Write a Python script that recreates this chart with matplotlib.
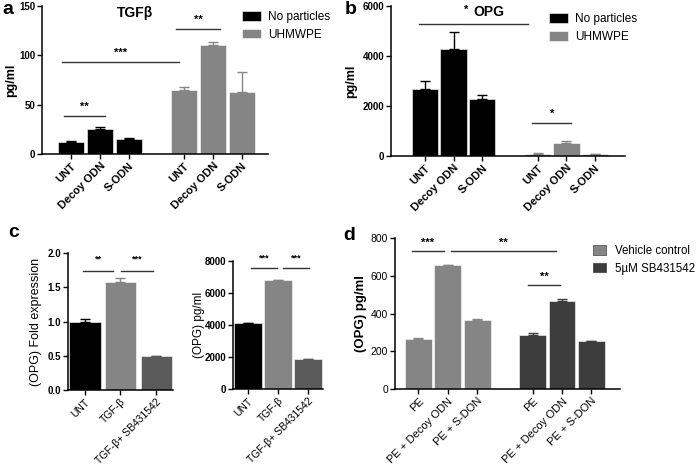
import numpy as np
import matplotlib.pyplot as plt

plt.rcParams['font.family'] = ['Liberation Sans', 'DejaVu Sans']

# ---- data ----
groups_ab = ['UNT', 'Decoy ODN', 'S-ODN']

tgf_none = [12, 25, 15]
tgf_none_err = [1, 2, 1.5]
tgf_pe = [65, 110, 63]
tgf_pe_err = [3, 4, 20]

opg_none = [2700, 4300, 2300]
opg_none_err = [300, 650, 150]
opg_pe = [100, 520, 70]
opg_pe_err = [30, 80, 20]

groups_c = ['UNT', 'TGF-β', 'TGF-β+ SB431542']
fold_expr = [1.0, 1.58, 0.49]
fold_expr_err = [0.04, 0.06, 0.01]
opg_c = [4100, 6800, 1870]
opg_c_err = [30, 30, 30]

groups_d = ['PE', 'PE + Decoy ODN', 'PE + S-DON']
opg_vehicle = [265, 655, 365]
opg_vehicle_err = [5, 3, 6]
opg_sb = [287, 467, 253]
opg_sb_err = [8, 8, 3]

BLACK = '#000000'
GREY = '#858585'
DARK = '#3d3d3d'
MID = '#5a5a5a'


def style_axis(ax, bold=True, ysize=7):
    for s in ['top', 'right']:
        ax.spines[s].set_visible(False)
    for s in ['left', 'bottom']:
        ax.spines[s].set_linewidth(1.1)
    ax.tick_params(direction='out', length=3.5, width=1.0, labelsize=ysize, pad=1.5)
    for lab in ax.get_yticklabels():
        lab.set_fontweight('bold' if bold else 'normal')


def xlabels(ax, pos, labels, size=8, bold=True):
    ax.set_xticks(pos)
    ax.set_xticklabels(labels, rotation=45, ha='right', rotation_mode='anchor',
                       fontsize=size, fontweight='bold' if bold else 'normal')


def bars(ax, pos, vals, errs, color, width, label=None):
    ax.bar(pos, vals, width=width, color=color, label=label,
           edgecolor='white', linewidth=0.4,
           yerr=[np.zeros(len(errs)), errs],
           error_kw=dict(ecolor=color, capsize=3.5, elinewidth=1.0, capthick=1.0))


def sig(ax, x0, x1, y, txt, dy, size=8):
    ax.plot([x0, x1], [y, y], color='#333333', lw=1.0, clip_on=False)
    ax.text((x0 + x1) / 2, y + dy, txt, ha='center', va='bottom', fontsize=size,
            fontweight='bold')


fig = plt.figure(figsize=(7, 4.7), dpi=100)

# ---- panel a ----
ax = fig.add_axes([42 / 700, 1 - 154 / 470, 226 / 700, 148 / 470])
p1 = np.arange(3)
p2 = p1 + 3.9
bars(ax, p1, tgf_none, tgf_none_err, BLACK, 0.9, 'No particles')
bars(ax, p2, tgf_pe, tgf_pe_err, GREY, 0.9, 'UHMWPE')
ax.set_xlim(-1.0, 6.8)
ax.set_ylim(0, 150)
ax.set_yticks([0, 50, 100, 150])
style_axis(ax)
xlabels(ax, np.concatenate([p1, p2]), groups_ab * 2)
ax.set_ylabel('pg/ml', fontsize=9, fontweight='bold')
ax.yaxis.set_label_coords(-0.11, 0.5)
sig(ax, -0.24, 1.17, 38.5, '**', 4)
sig(ax, -0.31, 3.72, 93, '***', 4)
sig(ax, 3.62, 5.14, 127, '**', 4)
ax.text(2.2, 150, 'TGFβ', ha='center', va='top', fontsize=10, fontweight='bold')
ax.legend(loc='upper left', bbox_to_anchor=(0.865, 1.0), frameon=False,
          fontsize=8.5, handlelength=1.6, handleheight=0.9, handletextpad=0.6,
          borderaxespad=0, labelspacing=0.5)

# ---- panel b ----
ax = fig.add_axes([391 / 700, 1 - 156 / 470, 234 / 700, 150 / 470])
p1 = np.arange(3)
p2 = p1 + 3.95
bars(ax, p1, opg_none, opg_none_err, BLACK, 0.92, 'No particles')
bars(ax, p2, opg_pe, opg_pe_err, GREY, 0.92, 'UHMWPE')
ax.set_xlim(-1.19, 7.0)
ax.set_ylim(0, 6000)
ax.set_yticks([0, 2000, 4000, 6000])
style_axis(ax)
xlabels(ax, np.concatenate([p1, p2]), groups_ab * 2)
ax.set_ylabel('pg/ml', fontsize=9, fontweight='bold')
ax.yaxis.set_label_coords(-0.145, 0.5)
sig(ax, -0.21, 3.6, 5280, '', 0)
ax.text(1.45, 5650, '*', ha='center', va='bottom', fontsize=8, fontweight='bold')
ax.text(2.25, 6050, 'OPG', ha='center', va='top', fontsize=10, fontweight='bold')
sig(ax, 3.75, 5.12, 1320, '*', 150)
ax.legend(loc='upper left', bbox_to_anchor=(0.655, 0.985), frameon=False,
          fontsize=8.5, handlelength=1.6, handleheight=0.9, handletextpad=0.6,
          borderaxespad=0, labelspacing=0.5)

# ---- panel c (left) ----
ax = fig.add_axes([68 / 700, 1 - 390 / 470, 105 / 700, 137 / 470])
pc = np.arange(3)
ax.bar(pc, fold_expr, width=0.88, color=[BLACK, GREY, MID], edgecolor='white', linewidth=0.4)
for x, v, e, c in zip(pc, fold_expr, fold_expr_err, [BLACK, GREY, MID]):
    ax.errorbar(x, v, yerr=[[0], [e]], color=c, capsize=3.5, elinewidth=1.0, capthick=1.0)
ax.set_xlim(-0.47, 2.47)
ax.set_ylim(0, 2.0)
ax.set_yticks([0, 0.5, 1.0, 1.5, 2.0])
ax.set_yticklabels(['0.0', '0.5', '1.0', '1.5', '2.0'])
style_axis(ax, ysize=7)
xlabels(ax, pc, groups_c, size=7.5, bold=False)
ax.set_ylabel('(OPG) Fold expression', fontsize=9)
ax.yaxis.set_label_coords(-0.25, 0.5)
sig(ax, -0.04, 0.79, 1.74, '**', 0.1, 6.5)
sig(ax, 1.01, 1.9, 1.74, '***', 0.1, 6.5)

# ---- panel c (right) ----
ax = fig.add_axes([233 / 700, 1 - 389 / 470, 90 / 700, 128 / 470])
ax.bar(pc, opg_c, width=0.93, color=[BLACK, GREY, MID], edgecolor='white', linewidth=0.4)
for x, v, e, c in zip(pc, opg_c, opg_c_err, [BLACK, GREY, MID]):
    ax.errorbar(x, v, yerr=[[0], [e]], color=c, capsize=3.5, elinewidth=1.0, capthick=1.0)
ax.set_xlim(-0.5, 2.5)
ax.set_ylim(0, 8000)
ax.set_yticks([0, 2000, 4000, 6000, 8000])
style_axis(ax, ysize=7)
xlabels(ax, pc, groups_c, size=7.5, bold=False)
ax.set_ylabel('(OPG) pg/ml', fontsize=8.5)
ax.yaxis.set_label_coords(-0.31, 0.5)
sig(ax, 0.1, 0.97, 7560, '***', 350, 6.5)
sig(ax, 1.17, 2.03, 7560, '***', 350, 6.5)

# ---- panel d ----
ax = fig.add_axes([395 / 700, 1 - 389 / 470, 225 / 700, 151 / 470])
p1 = np.arange(3)
p2 = p1 + 3.9
bars(ax, p1, opg_vehicle, opg_vehicle_err, GREY, 0.92, 'Vehicle control')
bars(ax, p2, opg_sb, opg_sb_err, DARK, 0.92, '5µM SB431542')
ax.set_xlim(-0.8, 6.88)
ax.set_ylim(0, 800)
ax.set_yticks([0, 200, 400, 600, 800])
style_axis(ax, bold=False, ysize=7.5)
xlabels(ax, np.concatenate([p1, p2]), groups_d * 2, bold=False)
ax.set_ylabel('(OPG) pg/ml', fontsize=9.5, fontweight='bold')
ax.yaxis.set_label_coords(-0.124, 0.5)
sig(ax, -0.22, 0.87, 731, '***', 15)
sig(ax, 1.11, 4.69, 731, '**', 15)
sig(ax, 3.74, 4.83, 551, '**', 15)
leg = ax.legend(loc='upper left', bbox_to_anchor=(0.858, 0.985), frameon=False,
                fontsize=8.3, handlelength=1.2, handleheight=0.9, handletextpad=0.7,
                borderaxespad=0, labelspacing=0.5)
for h in leg.legend_handles:
    h.set_edgecolor('#222222')

# panel letters
for x, y, t in [(2, 10, 'a'), (345, 10, 'b'), (8, 232, 'c'), (343, 236, 'd')]:
    fig.text(x / 700, 1 - y / 470, t, fontsize=14, fontweight='bold', va='center', ha='left')

fig.savefig('out.png', dpi=100)
